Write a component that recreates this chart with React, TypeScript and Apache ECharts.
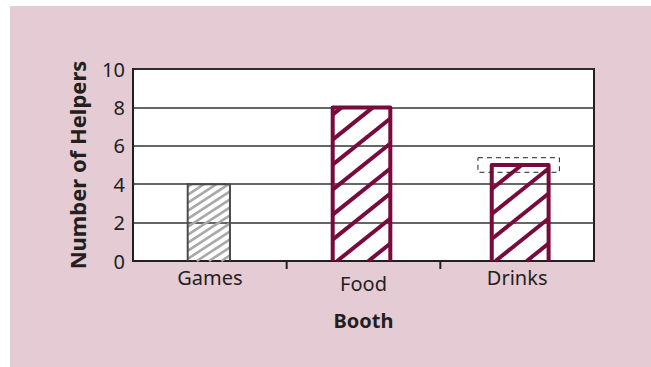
import React, { useEffect, useRef } from "react";
import * as echarts from "echarts";

const categories = ["Games", "Food", "Drinks"];
const helpers = [4, 8, 5];
const highlight: (number | null)[] = [null, null, 5];
const yTicks = { min: 0, max: 10, interval: 2 };

const FONT = "'Noto Sans', 'Open Sans', sans-serif";
const INK = "#231f20";
const MAROON = "#780a3c";

// per-bar drawing style (not data)
const BAR_STYLE = [
  { widthFrac: 0.275, dx: -1, stroke: "#4a4a4a", strokeWidth: 2, hatch: "#a9a9a9", hatchWidth: 2.6, spacing: 8, slope: 0.65 },
  { widthFrac: 0.375, dx: -2, stroke: MAROON, strokeWidth: 4, hatch: MAROON, hatchWidth: 4, spacing: 25, slope: 0.8 },
  { widthFrac: 0.37, dx: 3, stroke: MAROON, strokeWidth: 4, hatch: MAROON, hatchWidth: 4, spacing: 25, slope: 0.8 },
];
const HIGHLIGHT_STYLE = { widthFrac: 0.53, dx: 1.5, halfHeight: 0.38 };
const TICK_LEN = 8;

function hatchLines(x0: number, x1: number, top: number, bottom: number, s: any) {
  const out: any[] = [];
  const w = x1 - x0;
  const k = s.slope;
  for (let yL = bottom + k * w + s.spacing * 0.3; yL > top; yL -= s.spacing) {
    const xa = Math.max(x0, x0 + (yL - bottom) / k);
    const xb = Math.min(x1, x0 + (yL - top) / k);
    if (xb - xa < 1) continue;
    const ya = yL - k * (xa - x0);
    const yb = yL - k * (xb - x0);
    out.push({
      type: "line",
      shape: { x1: xa, y1: ya, x2: xb, y2: yb },
      style: { stroke: s.hatch, lineWidth: s.hatchWidth, lineCap: "butt" },
      silent: true,
    });
  }
  return out;
}

export default function App() {
  const ref = useRef<HTMLDivElement>(null);
  useEffect(() => {
    if (!ref.current) return;
    const chart = echarts.init(ref.current, undefined, { renderer: "svg" });
    chart.setOption({
      animation: false,
      backgroundColor: "transparent",
      grid: {
        left: 123,
        top: 63,
        right: 57,
        bottom: 106,
        show: true,
        backgroundColor: "#ffffff",
        borderColor: INK,
        borderWidth: 2,
        z: 0,
      },
      xAxis: {
        type: "category",
        data: categories,
        name: "Booth",
        nameLocation: "middle",
        nameGap: 49,
        nameTextStyle: { fontFamily: FONT, fontSize: 20, fontWeight: "bold", color: INK },
        axisLine: { show: true, lineStyle: { color: INK, width: 2 } },
        axisTick: { show: false },
        axisLabel: {
          fontFamily: FONT,
          fontSize: 20,
          color: INK,
          margin: 6,
          formatter: (v: string) => (v === "Food" ? "{low|" + v + "}" : v),
          rich: { low: { fontFamily: FONT, fontSize: 20, color: INK, padding: [6, 0, 0, 0] } },
        },
      },
      yAxis: {
        type: "value",
        min: yTicks.min,
        max: yTicks.max,
        interval: yTicks.interval,
        name: "Number of Helpers",
        nameLocation: "middle",
        nameGap: 45,
        nameTextStyle: { fontFamily: FONT, fontSize: 22, fontWeight: "bold", color: INK },
        axisLine: { show: true, lineStyle: { color: INK, width: 2 } },
        axisTick: { show: false },
        axisLabel: { fontFamily: FONT, fontSize: 20, color: INK, margin: 8 },
        splitLine: { show: true, lineStyle: { color: "#333333", width: 1.5 } },
      },
      series: [
        {
          type: "custom",
          data: helpers.map((v, i) => [i, v]),
          encode: { x: 0, y: 1 },
          z: 3,
          renderItem: (params: any, api: any) => {
            const i = api.value(0);
            const v = api.value(1);
            const s = BAR_STYLE[i];
            const base = api.coord([i, 0]);
            const topPt = api.coord([i, v]);
            const band = api.size([1, 0])[0];
            const w = band * s.widthFrac;
            const cx = base[0] + s.dx;
            const x0 = cx - w / 2;
            const x1 = cx + w / 2;
            const top = topPt[1];
            const bottom = base[1];
            const children = hatchLines(x0, x1, top, bottom, s);
            children.push({
              type: "polyline",
              shape: { points: [[x0, bottom], [x0, top], [x1, top], [x1, bottom]] },
              style: { stroke: s.stroke, lineWidth: s.strokeWidth, fill: "none", lineJoin: "round" },
              silent: true,
            });
            if (i > 0) {
              const bx = base[0] - band / 2;
              children.push({
                type: "line",
                shape: { x1: bx, y1: bottom, x2: bx, y2: bottom + TICK_LEN },
                style: { stroke: INK, lineWidth: 2 },
                silent: true,
              });
            }
            return { type: "group", children };
          },
        },
        {
          type: "custom",
          data: highlight.map((v, i) => [i, v]).filter((d) => d[1] !== null),
          encode: { x: 0, y: 1 },
          z: 4,
          renderItem: (params: any, api: any) => {
            const i = api.value(0);
            const v = api.value(1);
            const band = api.size([1, 0])[0];
            const c = api.coord([i, v]);
            const hi = api.coord([i, v + HIGHLIGHT_STYLE.halfHeight]);
            const lo = api.coord([i, v - HIGHLIGHT_STYLE.halfHeight]);
            const w = band * HIGHLIGHT_STYLE.widthFrac;
            const cx = c[0] + HIGHLIGHT_STYLE.dx;
            return {
              type: "rect",
              shape: { x: cx - w / 2, y: hi[1], width: w, height: lo[1] - hi[1] },
              style: { fill: "none", stroke: "#222", lineWidth: 1, lineDash: [5, 4] },
              silent: true,
            };
          },
        },
      ],
    });
    return () => chart.dispose();
  }, []);
  return (
    <div style={{ position: "fixed", left: 0, top: 0, width: 651, height: 367, background: "#ffffff" }}>
      <div
        style={{ position: "absolute", left: 10, top: 6, width: 641, height: 361, background: "#e4cbd4" }}
      >
        <div ref={ref} style={{ width: 641, height: 361 }} />
      </div>
    </div>
  );
}
